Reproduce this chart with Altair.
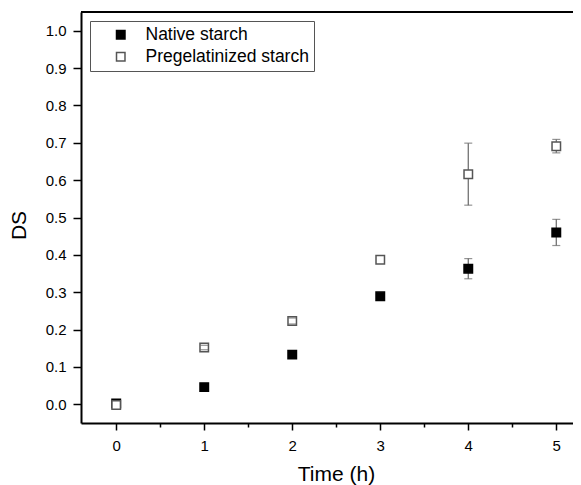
import altair as alt
import pandas as pd

# Data
time_h = [0, 1, 2, 3, 4, 5]
native_ds = [0.002, 0.046, 0.133, 0.289, 0.363, 0.460]
native_err = [0.0, 0.0, 0.0, 0.0, 0.027, 0.035]
preg_ds = [-0.002, 0.152, 0.223, 0.387, 0.616, 0.691]
preg_err = [0.0, 0.006, 0.008, 0.0, 0.083, 0.018]
series_names = ["Native starch", "Pregelatinized starch"]

x_ticks = [0, 0.5, 1, 1.5, 2, 2.5, 3, 3.5, 4, 4.5, 5]
y_ticks = [round(i * 0.05, 2) for i in range(0, 21)]

rows = []
for s, vals, errs in [(series_names[0], native_ds, native_err),
                      (series_names[1], preg_ds, preg_err)]:
    for t, v, e in zip(time_h, vals, errs):
        rows.append({"time": t, "ds": v, "err": e, "lo": v - e, "hi": v + e, "series": s})
df = pd.DataFrame(rows)
df_err = df[df["err"] > 0]

W, H = 492, 411
FONT = "Liberation Sans"

x_scale = alt.Scale(domain=[-0.4, 5.19], nice=False, zero=False)
y_scale = alt.Scale(domain=[-0.05, 1.05], nice=False, zero=False)

x_axis = alt.Axis(
    values=x_ticks,
    labelExpr="datum.value % 1 === 0 ? format(datum.value, 'd') : ''",
    tickSize={"condition": {"test": "datum.value % 1 === 0", "value": 7}, "value": 4},
    labelOverlap=False,
    labelPadding=8,
    title="Time (h)",
    titleX=255, titleY=51, titleAlign="center", titleBaseline="middle",
    grid=False,
)
y_axis = alt.Axis(
    values=y_ticks,
    labelExpr="round(datum.value * 20) % 2 === 0 ? format(datum.value, '.1f') : ''",
    tickSize={"condition": {"test": "round(datum.value * 20) % 2 === 0", "value": 8}, "value": 4},
    labelOverlap=False,
    labelPadding=7,
    title="DS",
    titleX=-62, titleY=213, titleAlign="center", titleBaseline="middle", titleAngle=-90,
    grid=False,
)

legend = alt.Legend(
    title=None, orient="none", legendX=9, legendY=9,
    strokeColor="#555555", fillColor="white", padding=5,
    symbolType="square", symbolSize=72, symbolStrokeWidth=1.5,
    symbolOffset=17, labelOffset=16, rowPadding=3, labelLimit=400,
    labelFont=FONT, labelFontSize=17.5, labelColor="black",
)

fill_scale = alt.Scale(domain=series_names, range=["black", "white"])
stroke_scale = alt.Scale(domain=series_names, range=["black", "#555555"])

err_rules = alt.Chart(df_err).mark_rule(color="#666666", strokeWidth=1.2).encode(
    x=alt.X("time:Q", scale=x_scale, axis=x_axis),
    y=alt.Y("lo:Q", scale=y_scale, axis=y_axis),
    y2="hi:Q",
)

points = alt.Chart(df).mark_point(shape="square", filled=True, size=72, strokeWidth=1.5, opacity=1).encode(
    x=alt.X("time:Q", scale=x_scale, axis=x_axis),
    y=alt.Y("ds:Q", scale=y_scale, axis=y_axis),
    fill=alt.Fill("series:N", scale=fill_scale, legend=legend, sort=series_names),
    stroke=alt.Stroke("series:N", scale=stroke_scale, legend=legend, sort=series_names),
)

caps_lo = alt.Chart(df_err).mark_tick(color="#666666", orient="horizontal", size=8, thickness=1.2).encode(
    x=alt.X("time:Q", scale=x_scale),
    y=alt.Y("lo:Q", scale=y_scale),
)
caps_hi = alt.Chart(df_err).mark_tick(color="#666666", orient="horizontal", size=8, thickness=1.2).encode(
    x=alt.X("time:Q", scale=x_scale),
    y=alt.Y("hi:Q", scale=y_scale),
)

top_border = alt.Chart(pd.DataFrame({"a": [0]})).mark_rule(color="black", strokeWidth=2).encode(
    x=alt.value(0), x2=alt.value(W), y=alt.value(0)
)

chart = alt.layer(err_rules, points, caps_lo, caps_hi, top_border).properties(
    width=W, height=H,
    autosize=alt.AutoSizeParams(type="none"),
    padding={"left": 73, "top": 4, "right": 0, "bottom": 62},
    background="white",
).configure_view(stroke=None).configure_axis(
    domainColor="black", domainWidth=2,
    tickColor="black", tickWidth=1.5,
    labelFont=FONT, labelFontSize=15, labelColor="black",
    titleFont=FONT, titleFontSize=21, titleFontWeight="normal", titleColor="black",
)

chart.save("out.html", embed_options={"renderer": "svg", "actions": False})
